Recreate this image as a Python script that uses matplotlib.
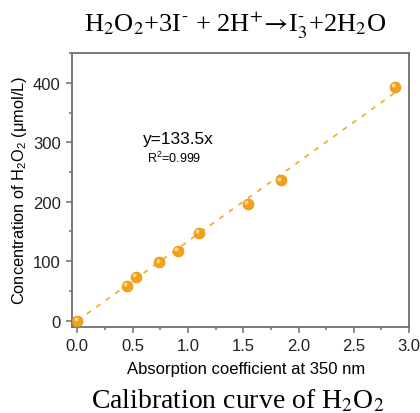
import numpy as np
import matplotlib
matplotlib.use("Agg")
import matplotlib.pyplot as plt
import matplotlib.transforms as mtrans
from matplotlib.ticker import MultipleLocator, FormatStrFormatter

plt.rcParams['font.family'] = ['Liberation Sans', 'DejaVu Sans']
plt.rcParams['mathtext.fontset'] = 'custom'
plt.rcParams['mathtext.rm'] = 'Liberation Sans'
plt.rcParams['mathtext.it'] = 'Liberation Sans:italic'

# data
absorb = [0.0, 0.45, 0.53, 0.74, 0.91, 1.10, 1.54, 1.84, 2.87]
conc = [0, 59, 74, 98, 118, 148, 197, 236, 393]
slope = 133.5
fit_x = [0.0, 2.87]

fig = plt.figure(figsize=(4.2, 4.14), dpi=100)
ax = fig.add_axes([0.171, 0.2085, 0.803, 0.661])

fx = np.array(fit_x)
ax.plot(fx, slope * fx, color='#F5A623', lw=1.2, dashes=(3, 4), zorder=2)
ax.scatter(absorb, conc, s=60, color='#F4A11A', edgecolor='#E8940E', lw=0.6, zorder=3)
off = mtrans.ScaledTranslation(-1.2 / 72, 1.2 / 72, fig.dpi_scale_trans)
ax.scatter(absorb, conc, s=8, color='#FCD98E', lw=0, zorder=4,
           transform=ax.transData + off)

ax.set_xlim(-0.05, 3.0)
ax.set_ylim(-10, 450)
ax.xaxis.set_major_locator(MultipleLocator(0.5))
ax.xaxis.set_minor_locator(MultipleLocator(0.25))
ax.yaxis.set_major_locator(MultipleLocator(100))
ax.yaxis.set_minor_locator(MultipleLocator(50))
ax.xaxis.set_major_formatter(FormatStrFormatter('%.1f'))

for s in ax.spines.values():
    s.set_color('#6e6e6e')
    s.set_linewidth(1.3)
ax.tick_params(which='both', direction='out', color='#6e6e6e', width=1.1,
               labelsize=12, labelcolor='#222222')
ax.tick_params(which='major', length=4.5)
ax.tick_params(which='minor', length=2.5)

ax.set_xlabel('Absorption coefficient at 350 nm', fontsize=12)
ax.xaxis.set_label_coords(0.516, -0.125)
ax.set_ylabel('Concentration of H$_2$O$_2$ (μmol/L)', fontsize=11.8, labelpad=3)

ax.text(0.59, 307, 'y=133.5x', fontsize=12.4, va='center')
ax.text(0.63, 274, 'R$^2$=0.999', fontsize=9, va='center')

serif = ['Liberation Serif', 'DejaVu Serif']
fig.text(0.56, 0.938,
         r'H$_2$O$_2$+3I$^{\text{-}}$ + 2H$^{+}$$\!\rightarrow\!$I$_3^{\text{-}}$+2H$_2$O',
         family=serif, math_fontfamily='stix',
         fontsize=19, ha='center', va='center')
fig.text(0.565, 0.032, r'Calibration curve of H$_2$O$_2$',
         family=serif, math_fontfamily='stix',
         fontsize=20, ha='center', va='center')

fig.savefig('out.png', dpi=100)
